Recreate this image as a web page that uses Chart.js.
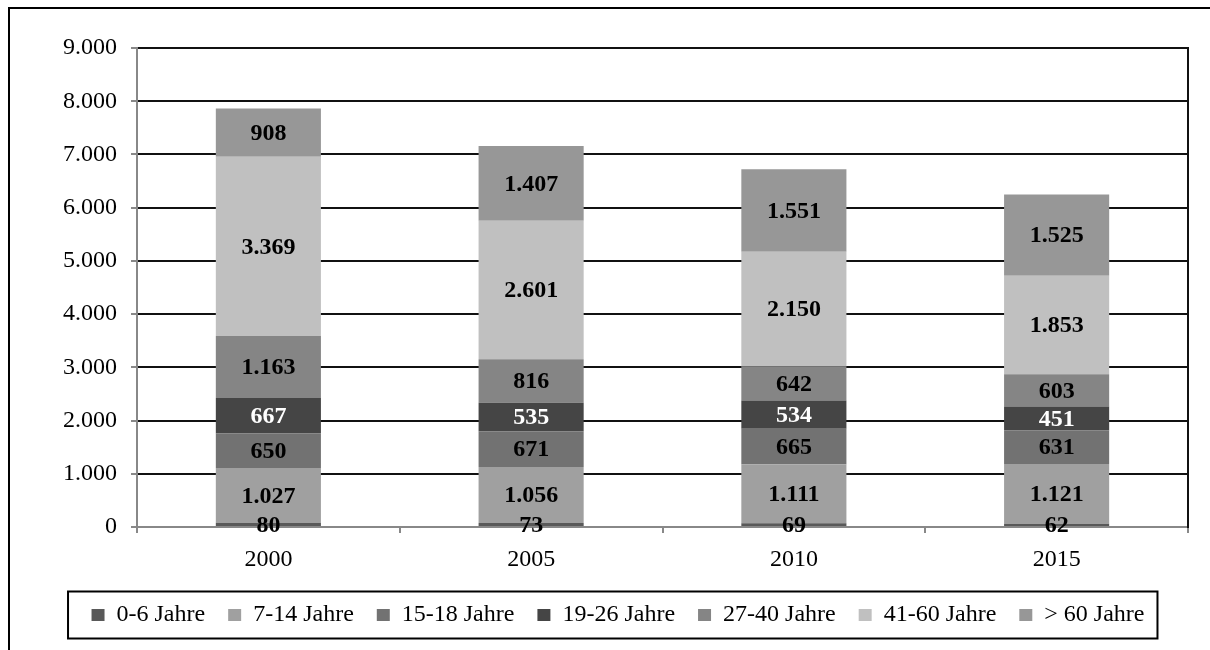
<!DOCTYPE html>
<html>
<head>
<meta charset="utf-8">
<script src="https://cdn.jsdelivr.net/npm/chart.js@4.4.1/dist/chart.umd.min.js"></script>
<style>
  html, body { margin: 0; padding: 0; background: #fff; overflow: hidden; }
  #frame {
    position: absolute; left: 8px; top: 7px;
    width: 1210px; height: 700px;
    border-left: 2px solid #000; border-top: 2px solid #000;
  }
  #chart { position: absolute; left: 0; top: 0; }
</style>
</head>
<body>
<div id="frame"><canvas id="chart" width="1204" height="641"></canvas></div>
<script>
// ---------- data ----------
const YEARS = ['2000', '2005', '2010', '2015'];

const AGE_0_6   = [80, 73, 69, 62];
const AGE_7_14  = [1027, 1056, 1111, 1121];
const AGE_15_18 = [650, 671, 665, 631];
const AGE_19_26 = [667, 535, 534, 451];
const AGE_27_40 = [1163, 816, 642, 603];
const AGE_41_60 = [3369, 2601, 2150, 1853];
const AGE_60_UP = [908, 1407, 1551, 1525];

const Y_MIN = 0, Y_MAX = 9000, Y_STEP = 1000;

// ---------- series (order bottom -> top) ----------
const SERIES = [
  { label: '0-6 Jahre',   data: AGE_0_6,   color: '#595959', text: '#000' },
  { label: '7-14 Jahre',  data: AGE_7_14,  color: '#a0a0a0', text: '#000' },
  { label: '15-18 Jahre', data: AGE_15_18, color: '#727272', text: '#000' },
  { label: '19-26 Jahre', data: AGE_19_26, color: '#454545', text: '#fff' },
  { label: '27-40 Jahre', data: AGE_27_40, color: '#858585', text: '#000' },
  { label: '41-60 Jahre', data: AGE_41_60, color: '#c0c0c0', text: '#000' },
  { label: '> 60 Jahre',  data: AGE_60_UP, color: '#979797', text: '#000' },
];

// german thousands separator
const fmt = (v) => String(v).replace(/\B(?=(\d{3})+(?!\d))/g, '.');

Chart.defaults.font.family = "'Liberation Serif', 'Times New Roman', serif";
Chart.defaults.font.size = 24;
Chart.defaults.color = '#000';

// value labels in the middle of each segment
const segmentLabels = {
  id: 'segmentLabels',
  afterDatasetsDraw(chart) {
    const ctx = chart.ctx;
    ctx.save();
    ctx.font = "bold 24px 'Liberation Serif', serif";
    ctx.textAlign = 'center';
    ctx.textBaseline = 'middle';
    chart.data.datasets.forEach((ds, i) => {
      const meta = chart.getDatasetMeta(i);
      meta.data.forEach((bar, j) => {
        ctx.fillStyle = SERIES[i].text;
        ctx.fillText(fmt(ds.data[j]), bar.x, (bar.y + bar.base) / 2 + 1);
      });
    });
    ctx.restore();
  }
};

// box round the legend
const legendFrame = {
  id: 'legendFrame',
  afterDraw(chart) {
    const boxes = chart.legend && chart.legend.legendHitBoxes;
    if (!boxes || !boxes.length) return;
    const first = boxes[0], last = boxes[boxes.length - 1];
    const cy = first.top + first.height / 2;
    const ctx = chart.ctx;
    ctx.save();
    ctx.strokeStyle = '#000';
    ctx.lineWidth = 2;
    ctx.strokeRect(first.left - 23.5, cy - 23.5, (last.left + last.width + 13) - (first.left - 23.5), 47);
    ctx.restore();
  }
};

new Chart(document.getElementById('chart'), {
  type: 'bar',
  data: {
    labels: YEARS,
    datasets: SERIES.map(s => ({
      label: s.label,
      data: s.data,
      backgroundColor: s.color,
      borderWidth: 0,
      categoryPercentage: 1.0,
      barPercentage: 0.40,
    })),
  },
  options: {
    responsive: false,
    animation: false,
    layout: { padding: { top: 39, left: 12, right: 0, bottom: 13 } },
    scales: {
      x: {
        stacked: true,
        grid: { display: true, drawOnChartArea: false, drawTicks: true, tickLength: 6, color: '#888', lineWidth: 2 },
        border: { display: true, color: '#888', width: 2 },
        ticks: { padding: 12, maxRotation: 0, font: { size: 24 }, color: '#000' },
        afterFit: (s) => { s.height = 53; },
      },
      y: {
        stacked: true,
        min: Y_MIN,
        max: Y_MAX,
        ticks: { stepSize: Y_STEP, padding: 14, callback: (v) => fmt(v), font: { size: 24 }, color: '#000' },
        grid: {
          color: (c) => (c.tick && c.tick.value === 0 ? 'rgba(0,0,0,0)' : '#111'),
          tickColor: '#888',
          lineWidth: 2,
          tickLength: 6,
        },
        border: { display: true, color: '#888', width: 2 },
        afterFit: (s) => { s.width = 115; },
      },
      y2: {
        position: 'right',
        display: true,
        grid: { display: false },
        ticks: { display: false },
        border: { display: true, color: '#111', width: 2 },
        afterFit: (s) => { s.width = 26; },
      },
    },
    plugins: {
      legend: {
        position: 'bottom',
        labels: { boxWidth: 13, boxHeight: 12, padding: 23, font: { size: 24 }, color: '#000' },
      },
      tooltip: { enabled: false },
    },
  },
  plugins: [segmentLabels, legendFrame],
});
</script>
</body>
</html>
